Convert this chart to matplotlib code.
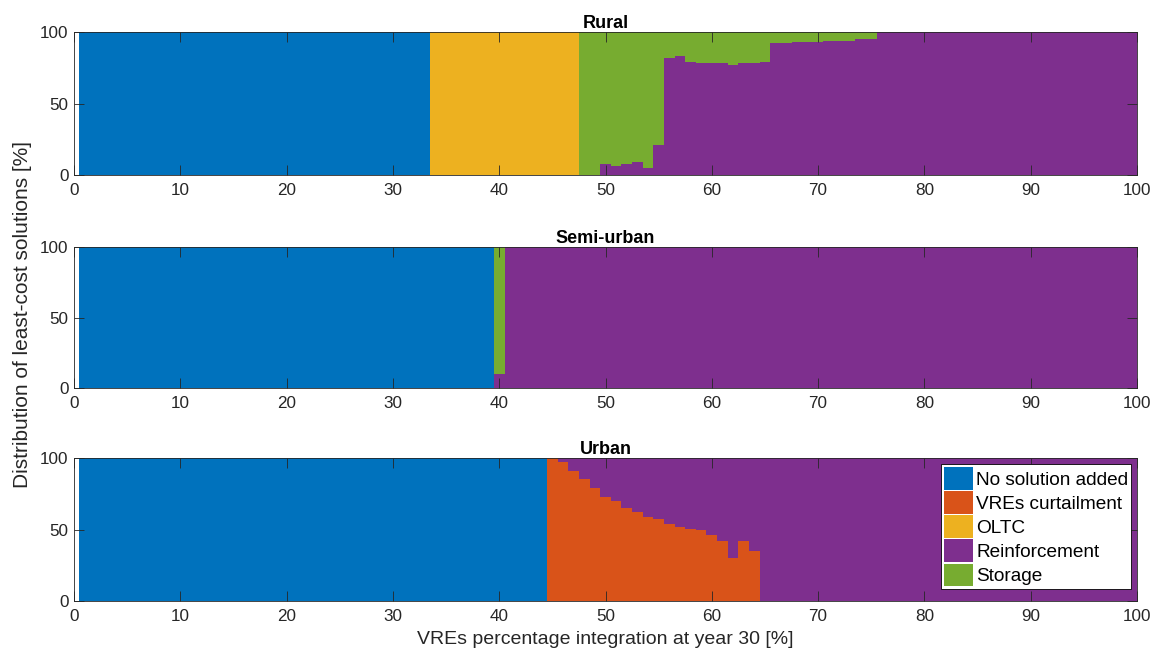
import numpy as np
import matplotlib
matplotlib.use("Agg")
import matplotlib.pyplot as plt

plt.rcParams['font.family'] = ['Liberation Sans', 'DejaVu Sans']

# x positions: VREs integration 1..100 %
x = np.arange(1, 101)

labels = ["No solution added", "VREs curtailment", "OLTC", "Reinforcement", "Storage"]
colors = ["#0072BD", "#D95319", "#EDB120", "#7E2F8E", "#77AC30"]

# ---- Rural ----
rural_no_solution = [100] * 33 + [0] * 67
rural_curtailment = [0] * 100
rural_oltc = [0] * 33 + [100] * 14 + [0] * 53
rural_reinf_mid = [8, 6, 8, 9, 5, 21, 82, 83, 79, 78, 78, 78, 77, 78, 78, 79,
                   92, 92, 93, 93, 93, 94, 94, 94, 95, 95]   # x = 50..75
rural_reinforcement = [0] * 49 + rural_reinf_mid + [100] * 25

# ---- Semi-urban ----
semi_no_solution = [100] * 39 + [0] * 61
semi_curtailment = [0] * 100
semi_oltc = [0] * 100
semi_reinforcement = [0] * 39 + [10] + [100] * 60

# ---- Urban ----
urban_no_solution = [100] * 44 + [0] * 56
urban_curt_mid = [100, 97, 91, 85, 79, 73, 70, 65, 62, 59, 57, 54, 52, 50.5, 49.5,
                  46, 42, 30, 42, 35]   # x = 45..64
urban_curtailment = [0] * 44 + urban_curt_mid + [0] * 36
urban_oltc = [0] * 100


def rest_of(*parts):
    # whatever is left up to 100 %
    return 100 - np.sum(np.array(parts, dtype=float), axis=0)


rural = [rural_no_solution, rural_curtailment, rural_oltc, rural_reinforcement]
rural.append(rest_of(*rural))
semi = [semi_no_solution, semi_curtailment, semi_oltc, semi_reinforcement]
semi.append(rest_of(*semi))
urban_reinforcement = rest_of(urban_no_solution, urban_curtailment)
urban = [urban_no_solution, urban_curtailment, urban_oltc, urban_reinforcement, [0] * 100]

regions = [("Rural", rural), ("Semi-urban", semi), ("Urban", urban)]

W, H = 1163, 660
fig = plt.figure(figsize=(W / 100, H / 100), dpi=100)

# axes boxes in pixels: (top, bottom)
boxes = [(32, 175), (247, 388), (458, 601)]
left, right = 74, 1137
axc = '#262626'

axes = []
for (title, series), (top, bot) in zip(regions, boxes):
    ax = fig.add_axes([left / W, (H - bot) / H, (right - left) / W, (bot - top) / H])
    bottom = np.zeros(100)
    for vals, col, lab in zip(series, colors, labels):
        vals = np.asarray(vals, dtype=float)
        ax.bar(x, vals, width=1.0, bottom=bottom, color=col, edgecolor='none',
               linewidth=0, label=lab)
        bottom += vals
    ax.set_xlim(0, 100)
    ax.set_ylim(0, 100)
    ax.set_xticks(np.arange(0, 101, 10))
    ax.set_yticks([0, 50, 100])
    ax.tick_params(direction='in', length=7.5, width=0.6, color=axc, labelcolor=axc,
                   labelsize=12.3, top=True, right=True)
    ax.tick_params(axis='x', pad=6)
    ax.tick_params(axis='y', pad=4)
    for s in ax.spines.values():
        s.set_color(axc)
        s.set_linewidth(0.6)
    ax.set_axisbelow(False)
    ax.set_title(title, fontsize=13, fontweight='bold', pad=3, color='black')
    axes.append(ax)

axes[2].set_xlabel("VREs percentage integration at year 30 [%]", fontsize=14,
                   color=axc, labelpad=5)
fig.text(23 / W, (H - 315) / H, "Distribution of least-cost solutions [%]",
         rotation=90, va='center', ha='center', fontsize=15, color=axc)

leg = axes[2].legend(loc='lower right', bbox_to_anchor=(0.9944, 0.084), borderaxespad=0,
                     fontsize=13.7, fancybox=False, framealpha=1, edgecolor='black',
                     handlelength=1.55, handleheight=1.45, handletextpad=0.15,
                     labelspacing=0.08, borderpad=0.15)
leg.get_frame().set_linewidth(0.6)

fig.savefig("out.png", dpi=100)
